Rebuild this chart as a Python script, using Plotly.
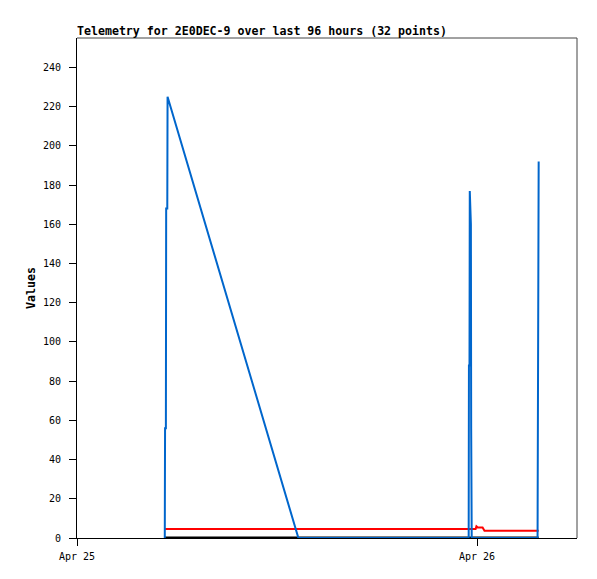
import plotly.graph_objects as go

# ---- data ----
blue_times = [
    "2025-04-25 05:16", "2025-04-25 05:17", "2025-04-25 05:20", "2025-04-25 05:21",
    "2025-04-25 05:25", "2025-04-25 05:26", "2025-04-25 13:17", "2025-04-25 23:30",
    "2025-04-25 23:31", "2025-04-25 23:33", "2025-04-25 23:34", "2025-04-25 23:38",
    "2025-04-25 23:39", "2025-04-25 23:41", "2025-04-26 03:38", "2025-04-26 03:40",
    "2025-04-26 03:42",
]
blue_values = [0, 56, 56, 168, 168, 225, 0, 0, 88, 88, 177, 160, 56, 0, 0, 97, 192]

red_times = [
    "2025-04-25 05:17", "2025-04-25 23:55", "2025-04-25 23:58", "2025-04-26 00:03",
    "2025-04-26 00:20", "2025-04-26 00:27", "2025-04-26 03:42",
]
red_values = [4.6, 4.6, 6.0, 5.4, 5.4, 3.7, 3.7]

black_times = ["2025-04-25 05:16", "2025-04-26 03:42"]
black_values = [0, 0]

y_ticks = list(range(0, 241, 20))
x_range = ["2025-04-25 00:00", "2025-04-26 06:00"]
title_text = "Telemetry for 2E0DEC-9 over last 96 hours (32 points)"

FONT = "DejaVu Sans Mono"
W, H = 589, 571  # page body has an 8px margin

fig = go.Figure()
fig.add_trace(go.Scatter(x=black_times, y=black_values, mode="lines",
                         line=dict(color="#000000", width=3), showlegend=False))
fig.add_trace(go.Scatter(x=red_times, y=red_values, mode="lines",
                         line=dict(color="#FF0000", width=2), showlegend=False))
fig.add_trace(go.Scatter(x=blue_times, y=blue_values, mode="lines",
                         line=dict(color="#0066CC", width=2), showlegend=False))

fig.update_layout(
    width=W, height=H,
    margin=dict(l=69, r=20, t=30, b=41),
    paper_bgcolor="white", plot_bgcolor="white",
    font=dict(family=FONT, size=10, color="#000000"),
    title=dict(text="<b>" + title_text + "</b>", x=69 / W, xanchor="left",
               y=1 - 23 / H, yanchor="middle", yref="container",
               font=dict(family=FONT, size=11.6, color="#000000")),
    xaxis=dict(range=x_range, type="date", tickformat="%b %d",
               dtick=86400000, tick0="2025-04-25",
               showgrid=False, zeroline=False, showline=True,
               linecolor="#000000", linewidth=1,
               ticks="outside", ticklen=7, tickcolor="#000000",
               ticklabelstandoff=2,
               tickfont=dict(family=FONT, size=10)),
    yaxis=dict(range=[0, 255], tickvals=y_ticks,
               showgrid=False, zeroline=False, showline=True,
               linecolor="#000000", linewidth=1,
               ticks="outside", ticklen=7, tickcolor="#000000",
               ticklabelstandoff=6,
               tickfont=dict(family=FONT, size=10)),
    shapes=[
        dict(type="line", xref="paper", yref="paper", x0=0, x1=1, y0=1, y1=1,
             line=dict(color="#444444", width=1)),
        dict(type="line", xref="paper", yref="paper", x0=1, x1=1, y0=0, y1=1,
             line=dict(color="#444444", width=1)),
    ],
    annotations=[
        dict(text="<b>Values</b>", xref="paper", yref="paper",
             x=(31 - 77) / 500, y=0.5, xanchor="center", yanchor="middle",
             textangle=-90, showarrow=False,
             font=dict(family=FONT, size=11.6, color="#000000")),
    ],
)

fig.write_html("out.html")
